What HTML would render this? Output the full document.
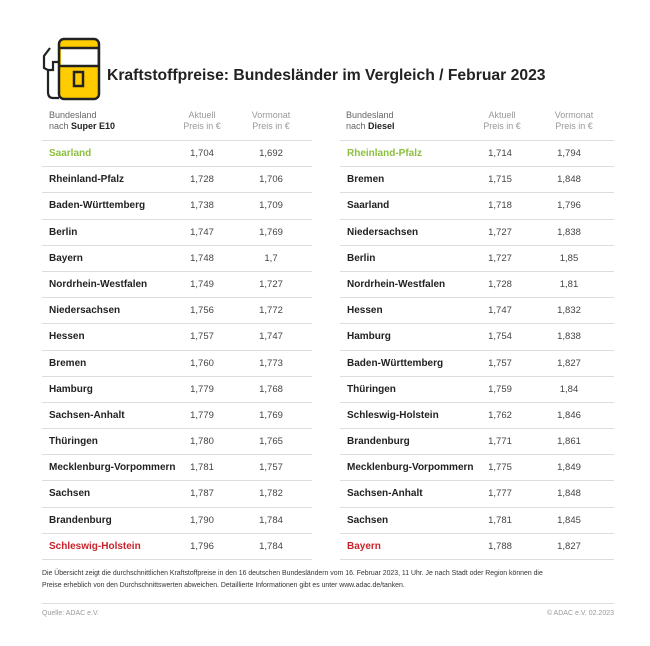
<!DOCTYPE html>
<html><head><meta charset="utf-8"><style>
body{margin:0;width:650px;height:646px;background:#fff;font-family:"Liberation Sans",sans-serif;color:#222;position:relative;overflow:hidden}
.t{position:absolute;top:140px;width:270px;border-top:1px solid #ddd}
.r{height:25.2px;border-bottom:1px solid #ddd;position:relative;font-size:9.5px}
.r span{position:absolute;top:7px}
.n{left:7px;font-weight:bold;font-size:10px}
.a{left:135px;width:50px;text-align:center;color:#444}
.v{left:204px;width:50px;text-align:center;color:#444}
.h{position:absolute;top:110px;font-size:9px;color:#666;line-height:11px}
.g{color:#8cbf3f}.red{color:#c8232c}
</style></head><body>
<svg style="position:absolute;left:40px;top:36px" width="64" height="66" viewBox="0 0 64 66">
<rect x="19" y="3" width="40" height="60" rx="5" fill="#ffcc00" stroke="#222" stroke-width="2.5"/>
<rect x="21" y="12" width="36" height="18" fill="#fff"/>
<line x1="19" y1="12" x2="59" y2="12" stroke="#222" stroke-width="2.5"/>
<line x1="19" y1="30" x2="59" y2="30" stroke="#222" stroke-width="2.5"/>
<rect x="34" y="36" width="9" height="14" fill="none" stroke="#222" stroke-width="2.5"/>
<path d="M10 12 L4 20 L4 32 L8 34 L8 56 Q8 62 13 62 L19 62" fill="none" stroke="#222" stroke-width="2.2"/>
<path d="M19 26 L13 26 L13 34 L8 34" fill="none" stroke="#222" stroke-width="2.2"/>
</svg>
<div style="position:absolute;left:107px;top:67px;font-size:15.7px;font-weight:bold;color:#222">Kraftstoffpreise: Bundesländer im Vergleich / Februar 2023</div>

<div class="h" style="left:49px">Bundesland<br>nach <b style="color:#222">Super E10</b></div>
<div class="h" style="left:177px;width:50px;text-align:center;color:#999">Aktuell<br>Preis in €</div>
<div class="h" style="left:246px;width:50px;text-align:center;color:#999">Vormonat<br>Preis in €</div>
<div class="h" style="left:346px">Bundesland<br>nach <b style="color:#222">Diesel</b></div>
<div class="h" style="left:477px;width:50px;text-align:center;color:#999">Aktuell<br>Preis in €</div>
<div class="h" style="left:549px;width:50px;text-align:center;color:#999">Vormonat<br>Preis in €</div>

<div class="t" style="left:42px">
<div class="r"><span class="n g">Saarland</span><span class="a">1,704</span><span class="v">1,692</span></div>
<div class="r"><span class="n">Rheinland-Pfalz</span><span class="a">1,728</span><span class="v">1,706</span></div>
<div class="r"><span class="n">Baden-Württemberg</span><span class="a">1,738</span><span class="v">1,709</span></div>
<div class="r"><span class="n">Berlin</span><span class="a">1,747</span><span class="v">1,769</span></div>
<div class="r"><span class="n">Bayern</span><span class="a">1,748</span><span class="v">1,7</span></div>
<div class="r"><span class="n">Nordrhein-Westfalen</span><span class="a">1,749</span><span class="v">1,727</span></div>
<div class="r"><span class="n">Niedersachsen</span><span class="a">1,756</span><span class="v">1,772</span></div>
<div class="r"><span class="n">Hessen</span><span class="a">1,757</span><span class="v">1,747</span></div>
<div class="r"><span class="n">Bremen</span><span class="a">1,760</span><span class="v">1,773</span></div>
<div class="r"><span class="n">Hamburg</span><span class="a">1,779</span><span class="v">1,768</span></div>
<div class="r"><span class="n">Sachsen-Anhalt</span><span class="a">1,779</span><span class="v">1,769</span></div>
<div class="r"><span class="n">Thüringen</span><span class="a">1,780</span><span class="v">1,765</span></div>
<div class="r"><span class="n">Mecklenburg-Vorpommern</span><span class="a">1,781</span><span class="v">1,757</span></div>
<div class="r"><span class="n">Sachsen</span><span class="a">1,787</span><span class="v">1,782</span></div>
<div class="r"><span class="n">Brandenburg</span><span class="a">1,790</span><span class="v">1,784</span></div>
<div class="r"><span class="n red">Schleswig-Holstein</span><span class="a">1,796</span><span class="v">1,784</span></div>
</div>

<div class="t" style="left:340px;width:274px">
<div class="r"><span class="n g">Rheinland-Pfalz</span><span class="a">1,714</span><span class="v">1,794</span></div>
<div class="r"><span class="n">Bremen</span><span class="a">1,715</span><span class="v">1,848</span></div>
<div class="r"><span class="n">Saarland</span><span class="a">1,718</span><span class="v">1,796</span></div>
<div class="r"><span class="n">Niedersachsen</span><span class="a">1,727</span><span class="v">1,838</span></div>
<div class="r"><span class="n">Berlin</span><span class="a">1,727</span><span class="v">1,85</span></div>
<div class="r"><span class="n">Nordrhein-Westfalen</span><span class="a">1,728</span><span class="v">1,81</span></div>
<div class="r"><span class="n">Hessen</span><span class="a">1,747</span><span class="v">1,832</span></div>
<div class="r"><span class="n">Hamburg</span><span class="a">1,754</span><span class="v">1,838</span></div>
<div class="r"><span class="n">Baden-Württemberg</span><span class="a">1,757</span><span class="v">1,827</span></div>
<div class="r"><span class="n">Thüringen</span><span class="a">1,759</span><span class="v">1,84</span></div>
<div class="r"><span class="n">Schleswig-Holstein</span><span class="a">1,762</span><span class="v">1,846</span></div>
<div class="r"><span class="n">Brandenburg</span><span class="a">1,771</span><span class="v">1,861</span></div>
<div class="r"><span class="n">Mecklenburg-Vorpommern</span><span class="a">1,775</span><span class="v">1,849</span></div>
<div class="r"><span class="n">Sachsen-Anhalt</span><span class="a">1,777</span><span class="v">1,848</span></div>
<div class="r"><span class="n">Sachsen</span><span class="a">1,781</span><span class="v">1,845</span></div>
<div class="r"><span class="n red">Bayern</span><span class="a">1,788</span><span class="v">1,827</span></div>
</div>

<div style="position:absolute;left:42px;top:568px;font-size:6.9px;line-height:12px;color:#333;width:580px">Die Übersicht zeigt die durchschnittlichen Kraftstoffpreise in den 16 deutschen Bundesländern vom 16. Februar 2023, 11 Uhr. Je nach Stadt oder Region können die<br>Preise erheblich von den Durchschnittswerten abweichen. Detaillierte Informationen gibt es unter www.adac.de/tanken.</div>
<div style="position:absolute;left:42px;top:603px;width:572px;border-top:1px solid #ddd"></div>
<div style="position:absolute;left:42px;top:610px;font-size:7px;color:#999">Quelle: ADAC e.V.</div>
<div style="position:absolute;right:36px;top:610px;font-size:7px;color:#999">© ADAC e.V. 02.2023</div>
</body></html>
